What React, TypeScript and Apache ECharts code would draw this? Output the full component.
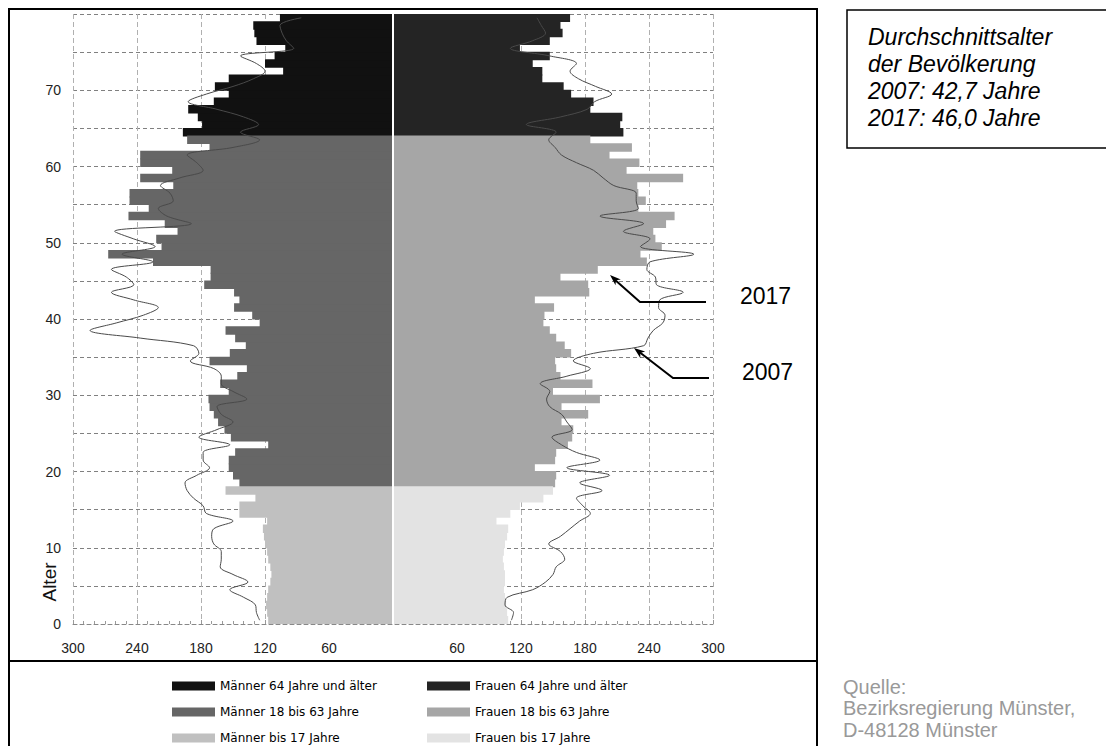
import React, { useEffect, useRef } from "react";
import * as echarts from "echarts";

// Ages 0..79 (category axis)
const ages: string[] = Array.from({ length: 80 }, (_, i) => String(i));

// 2017 population per age (men), index = age 0..79
const men2017: number[] = [
  117, 118, 119, 118, 117, 115, 114, 115, 117, 118,
  120, 121, 122, 118, 144, 144, 129, 157, 144, 150,
  154, 154, 148, 117, 152, 158, 164, 168, 172, 173,
  154, 162, 146, 137, 172, 153, 138, 148, 157, 125,
  132, 149, 144, 149, 177, 171, 171, 225, 267, 217,
  222, 202, 214, 248, 229, 247, 247, 206, 237, 207,
  237, 237, 172, 193, 197, 179, 183, 192, 168, 154,
  167, 154, 103, 120, 111, 101, 128, 130, 131, 106,
];

// 2017 population per age (women)
const women2017: number[] = [
  108, 107, 106, 105, 104, 105, 105, 104, 103, 104,
  105, 107, 108, 97, 110, 119, 141, 150, 152, 153,
  133, 152, 153, 164, 168, 169, 158, 183, 158, 194,
  150, 187, 157, 153, 152, 167, 161, 153, 147, 141,
  142, 151, 133, 184, 183, 157, 192, 238, 232, 252,
  246, 244, 256, 264, 230, 237, 230, 229, 272, 219,
  231, 203, 224, 185, 216, 213, 215, 185, 188, 167,
  160, 140, 140, 131, 147, 119, 147, 159, 157, 166,
];

// 2007 population per age (men) - line
const men2007: number[] = [
  125, 128, 129, 140, 153, 136, 150, 162, 161, 161,
  168, 170, 168, 150, 175, 178, 187, 193, 195, 184,
  172, 178, 178, 153, 182, 165, 150, 161, 165, 137,
  150, 161, 161, 168, 190, 182, 187, 237, 284, 259,
  234, 220, 243, 264, 243, 250, 264, 225, 254, 223,
  243, 261, 189, 212, 220, 206, 209, 218, 200, 178,
  184, 193, 150, 125, 143, 126, 140, 165, 192, 175,
  150, 131, 120, 128, 143, 93, 100, 104, 106, 86,
];

// 2007 population per age (women) - line
const women2007: number[] = [
  111, 113, 105, 107, 131, 143, 150, 153, 161, 157,
  146, 157, 166, 175, 185, 178, 172, 196, 175, 203,
  163, 194, 172, 158, 149, 168, 163, 158, 147, 144,
  147, 138, 163, 185, 169, 188, 235, 239, 244, 253,
  255, 249, 250, 272, 247, 246, 238, 241, 282, 232,
  241, 216, 235, 194, 230, 228, 228, 207, 197, 188,
  172, 158, 152, 146, 153, 125, 157, 182, 189, 205,
  190, 174, 166, 172, 147, 110, 131, 143, 139, 135,
];

const groupNames: string[] = [
  "Männer 64 Jahre und älter",
  "Männer 18 bis 63 Jahre",
  "Männer bis 17 Jahre",
  "Frauen 64 Jahre und älter",
  "Frauen 18 bis 63 Jahre",
  "Frauen bis 17 Jahre",
];
const groupColors: string[] = ["#111111", "#666666", "#c0c0c0", "#242424", "#a6a6a6", "#e3e3e3"];
const groupRanges: [number, number][] = [
  [64, 79],
  [18, 63],
  [0, 17],
  [64, 79],
  [18, 63],
  [0, 17],
];

const xTicks: number[] = [-300, -240, -180, -120, -60, 0, 60, 120, 180, 240, 300];

const FONT = "'Liberation Sans', Arial, sans-serif";
const LEGEND_FONT = "'DejaVu Sans', 'Liberation Sans', sans-serif";

function arrow(points: number[][], tip: number[], from: number[]) {
  const dx = tip[0] - from[0];
  const dy = tip[1] - from[1];
  const len = Math.sqrt(dx * dx + dy * dy);
  const ux = dx / len;
  const uy = dy / len;
  const L = 11;
  const W = 4;
  const bx = tip[0] - ux * L;
  const by = tip[1] - uy * L;
  const px = -uy * W;
  const py = ux * W;
  return [
    {
      type: "polyline",
      shape: { points },
      style: { stroke: "#000", lineWidth: 2, fill: "none" },
      z: 20,
    },
    {
      type: "polygon",
      shape: {
        points: [
          [tip[0], tip[1]],
          [bx + px, by + py],
          [bx + ux * 3, by + uy * 3],
          [bx - px, by - py],
        ],
      },
      style: { fill: "#000" },
      z: 20,
    },
  ];
}

export default function App() {
  const ref = useRef<HTMLDivElement>(null);

  useEffect(() => {
    if (!ref.current) return;
    const chart = echarts.init(ref.current, undefined, { renderer: "svg" });

    const barSeries = groupNames.map((name, gi) => {
      const isMen = gi < 3;
      const src = isMen ? men2017 : women2017;
      const [lo, hi] = groupRanges[gi];
      return {
        name,
        type: "bar",
        xAxisIndex: 0,
        yAxisIndex: 0,
        barGap: "-100%",
        barWidth: "110%",
        itemStyle: { color: groupColors[gi] },
        data: src.map((v, i) => (i >= lo && i <= hi ? (isMen ? -v : v) : null)),
        z: 2,
        silent: true,
      };
    });

    const legendLefts = [172, 172, 172, 427, 427, 427];
    const legendTops = [680, 706, 732, 680, 706, 732];
    const legends = groupNames.map((name, i) => ({
      data: [name],
      orient: "horizontal",
      left: legendLefts[i],
      top: legendTops[i],
      itemWidth: 43,
      itemHeight: 9,
      itemGap: 5,
      icon: "rect",
      selectedMode: false,
      padding: 0,
      textStyle: { fontSize: 12, color: "#000", fontFamily: LEGEND_FONT },
    }));

    const option: any = {
      animation: false,
      backgroundColor: "#ffffff",
      textStyle: { fontFamily: FONT },
      grid: { left: 73, right: 393, top: 14, bottom: 122, containLabel: false },
      legend: legends,
      xAxis: {
        type: "value",
        min: xTicks[0],
        max: xTicks[xTicks.length - 1],
        interval: 60,
        axisLabel: {
          formatter: (v: number) => (v === 0 ? "" : String(Math.abs(v))),
          fontSize: 14,
          color: "#222",
          margin: 17,
          fontFamily: FONT,
        },
        axisLine: { show: true, lineStyle: { color: "#888", type: [4, 3], width: 1 } },
        axisTick: { show: true, inside: true, length: 4, lineStyle: { color: "#999" } },
        minorTick: { show: true, splitNumber: 6, length: 3, lineStyle: { color: "#999" } },
        splitLine: { show: true, lineStyle: { color: "#b0b0b0", type: [5, 3], width: 1 } },
      },
      yAxis: [
        {
          type: "category",
          data: ages,
          boundaryGap: true,
          show: false,
        },
        {
          type: "value",
          min: 0,
          max: 80,
          interval: 5,
          position: "left",
          axisLine: { show: false },
          axisTick: { show: false },
          axisLabel: {
            formatter: (v: number) => (v % 10 === 0 && v < 80 ? String(v) : ""),
            fontSize: 14,
            color: "#222",
            margin: 12,
            fontFamily: FONT,
          },
          splitLine: { show: true, lineStyle: { color: "#808080", type: [4, 3], width: 1 } },
        },
      ],
      series: [
        ...barSeries,
        {
          name: "Männer 2007",
          type: "line",
          xAxisIndex: 0,
          yAxisIndex: 0,
          data: men2007.map((v) => -v),
          smooth: 0.35,
          symbol: "none",
          lineStyle: { color: "#4a4a4a", width: 1 },
          z: 5,
          silent: true,
        },
        {
          name: "Frauen 2007",
          type: "line",
          xAxisIndex: 0,
          yAxisIndex: 0,
          data: women2007,
          smooth: 0.35,
          symbol: "none",
          lineStyle: { color: "#4a4a4a", width: 1 },
          z: 5,
          silent: true,
        },
        {
          name: "divider",
          type: "line",
          xAxisIndex: 0,
          yAxisIndex: 0,
          data: [],
          z: 10,
          silent: true,
          markLine: {
            silent: true,
            symbol: "none",
            label: { show: false },
            lineStyle: { color: "#ffffff", width: 2, type: "solid" },
            data: [{ xAxis: 0 }],
          },
        },
      ],
      graphic: [
        {
          type: "rect",
          shape: { x: 9, y: 9, width: 808, height: 780 },
          style: { fill: "none", stroke: "#000", lineWidth: 2 },
          z: 30,
        },
        {
          type: "line",
          shape: { x1: 9, y1: 661, x2: 817, y2: 661 },
          style: { stroke: "#000", lineWidth: 2 },
          z: 30,
        },
        {
          type: "rect",
          shape: { x: 847, y: 10, width: 280, height: 138 },
          style: { fill: "none", stroke: "#000", lineWidth: 1.5 },
          z: 30,
        },
        {
          type: "text",
          x: 868,
          y: 23,
          style: {
            text: "Durchschnittsalter\nder Bevölkerung\n2007: 42,7 Jahre\n2017: 46,0 Jahre",
            font: `italic 23px ${FONT}`,
            lineHeight: 27,
            fill: "#000",
          },
          z: 30,
        },
        {
          type: "text",
          x: 843,
          y: 676,
          style: {
            text: "Quelle:\nBezirksregierung Münster,\nD-48128 Münster",
            font: `20px ${FONT}`,
            lineHeight: 21.5,
            fill: "#999999",
          },
          z: 30,
        },
        {
          type: "text",
          x: 49,
          y: 582,
          rotation: Math.PI / 2,
          style: {
            text: "Alter",
            font: `19px ${FONT}`,
            fill: "#111",
            align: "center",
            verticalAlign: "middle",
          },
          z: 30,
        },
        {
          type: "text",
          x: 740,
          y: 296,
          style: { text: "2017", font: `23px ${FONT}`, fill: "#000", verticalAlign: "middle" },
          z: 30,
        },
        {
          type: "text",
          x: 742,
          y: 372,
          style: { text: "2007", font: `23px ${FONT}`, fill: "#000", verticalAlign: "middle" },
          z: 30,
        },
        ...arrow(
          [
            [706, 302],
            [640, 302],
            [614, 279],
          ],
          [610, 275],
          [640, 302]
        ),
        ...arrow(
          [
            [709, 378],
            [673, 378],
            [638, 351],
          ],
          [634, 348],
          [673, 378]
        ),
      ],
    };

    chart.setOption(option);
    return () => chart.dispose();
  }, []);

  return (
    <div
      ref={ref}
      style={{ position: "absolute", left: 0, top: 0, width: 1106, height: 746, background: "#fff" }}
    />
  );
}
